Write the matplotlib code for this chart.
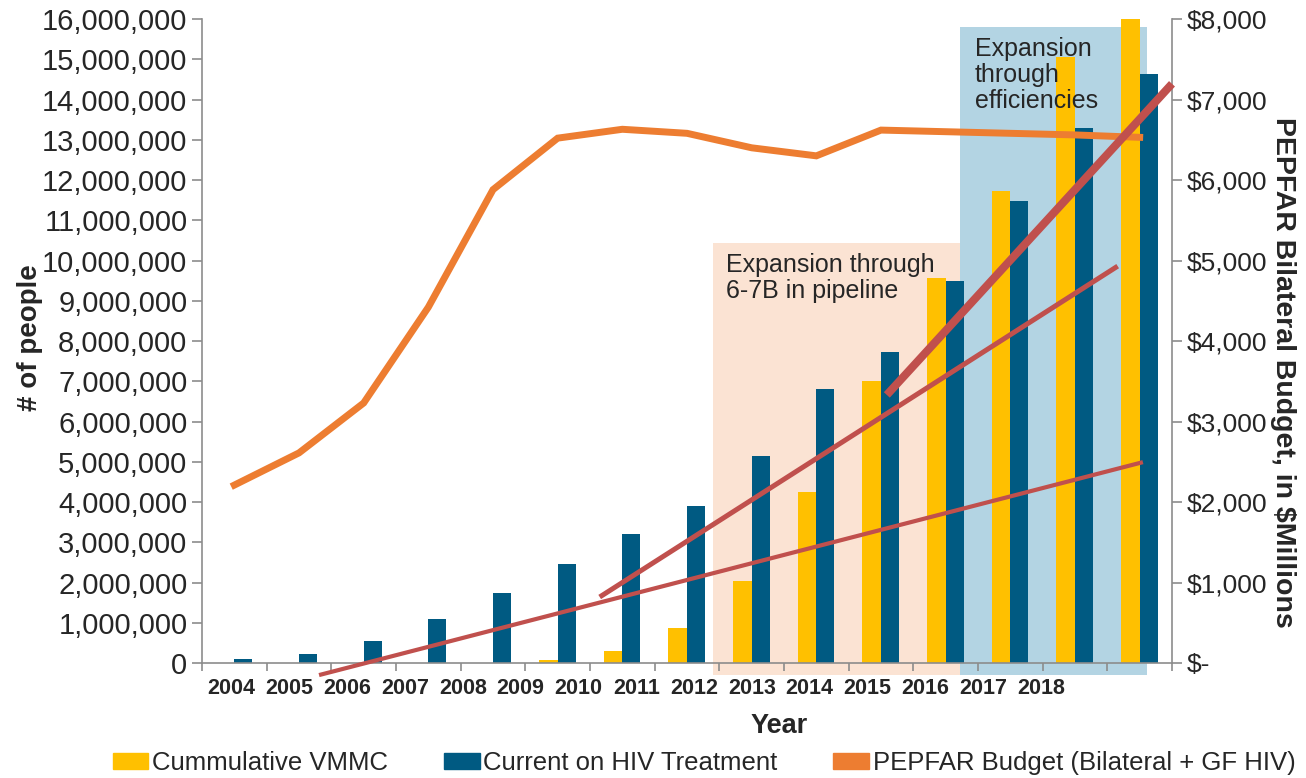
import numpy as np
import matplotlib
matplotlib.use("Agg")
import matplotlib.pyplot as plt
from matplotlib.patches import Rectangle, Patch
from matplotlib.ticker import FuncFormatter, MultipleLocator

# data
years = ["2004", "2005", "2006", "2007", "2008", "2009", "2010", "2011",
         "2012", "2013", "2014", "2015", "2016", "2017", "2018"]
vmmc = [0, 0, 0, 0, 0, 0.08e6, 0.30e6, 0.87e6, 2.03e6, 4.25e6, 7.0e6,
        9.57e6, 11.73e6, 15.06e6, 16.0e6]
on_treatment = [0.10e6, 0.23e6, 0.55e6, 1.10e6, 1.75e6, 2.47e6, 3.20e6, 3.90e6,
                5.15e6, 6.80e6, 7.73e6, 9.50e6, 11.48e6, 13.30e6, 14.63e6]
budget = [2210, 2610, 3230, 4420, 5880, 6520, 6630, 6580, 6400, 6300,
          6620, 6600, 6580, 6560, 6530]

# hand drawn trend arrows (x in category units, y in people)
trend_x = [[1.31, 14.05], [5.65, 13.66], [10.09, 14.50]]
trend_y = [[-0.30e6, 4.99e6], [1.64e6, 9.86e6], [6.66e6, 14.39e6]]
trend_lw = [3.0, 3.6, 5.8]

plt.rcParams['font.family'] = ['Liberation Sans', 'DejaVu Sans']

YELLOW = "#FFC000"
TEAL = "#005A82"
ORANGE = "#ED7D31"
RED = "#C0504D"
GREY = "#8C8C8C"
TXT = "#262626"

fig = plt.figure(figsize=(13.06, 7.78), dpi=100)
ax = fig.add_axes([202 / 1306, 1 - 663 / 778, 970 / 1306, 644 / 778])
ax2 = ax.twinx()

x = np.arange(len(years))

# background shading for the two expansion phases
ax.add_patch(Rectangle((7.40, -0.30e6), 3.82, 10.73e6, color="#FBE3D3",
                       zorder=0, clip_on=False, lw=0))
ax.add_patch(Rectangle((11.22, -0.30e6), 2.89, 16.10e6, color="#B3D4E3",
                       zorder=0, clip_on=False, lw=0))

ax.bar(x, vmmc, width=-0.29, align='edge', color=YELLOW, zorder=2)
ax.bar(x, on_treatment, width=0.28, align='edge', color=TEAL, zorder=2)

ax2.plot(x, budget, color=ORANGE, lw=5, solid_joinstyle='miter', zorder=3)

for tx, ty, lw in zip(trend_x, trend_y, trend_lw):
    ax2.plot(tx, ty, color=RED, lw=lw, transform=ax.transData,
             clip_on=False, zorder=4, solid_capstyle='butt')

ax.text(7.61, 10.19e6, "Expansion through\n6-7B in pipeline", fontsize=18,
        color=TXT, va='top', ha='left', zorder=5, linespacing=1.1)
ax.text(11.45, 15.55e6, "Expansion\nthrough\nefficiencies", fontsize=18,
        color=TXT, va='top', ha='left', zorder=5, linespacing=1.1)

# axes
ax.set_xlim(-0.5, 14.5)
ax.set_ylim(0, 16e6)
ax2.set_ylim(0, 8000)

ax.yaxis.set_major_locator(MultipleLocator(1e6))
ax.yaxis.set_major_formatter(FuncFormatter(lambda v, p: "{:,.0f}".format(v)))
ax2.yaxis.set_major_locator(MultipleLocator(1000))
ax2.yaxis.set_major_formatter(FuncFormatter(
    lambda v, p: "$-" if v == 0 else "${:,.0f}".format(v)))

label_pos = np.linspace(-0.04, 12.47, len(years))
ax.set_xticks(label_pos)
ax.set_xticklabels(years, fontsize=15.5, fontweight='bold', color=TXT)
ax.set_xticks(np.arange(-0.5, 15, 1), minor=True)
ax.tick_params(axis='x', which='major', length=0, pad=11)
ax.tick_params(axis='x', which='minor', length=6, color=GREY, width=1.2)

ax.tick_params(axis='y', labelsize=21, colors=TXT, length=7, color=GREY, width=1.2)
ax2.tick_params(axis='y', labelsize=19, colors=TXT, length=7, color=GREY, width=1.2)

for a in (ax, ax2):
    a.spines['top'].set_visible(False)
    for s in a.spines.values():
        s.set_color(GREY)
        s.set_linewidth(1.2)
ax.spines['right'].set_visible(False)
ax2.spines['left'].set_visible(False)
ax2.spines['bottom'].set_visible(False)

ax.set_xlabel("Year", fontsize=19.5, fontweight='bold', color=TXT)
ax.xaxis.set_label_coords(0.595, -0.077)

fig.text(30 / 1306, 1 - 338 / 778, "# of people", rotation=90, fontsize=20,
         fontweight='bold', color=TXT, ha='center', va='center')
fig.text(1283 / 1306, 1 - 372 / 778, "PEPFAR Bilateral Budget, in $Millions",
         rotation=-90, fontsize=20.5, fontweight='bold', color=TXT,
         ha='center', va='center')

handles = [Patch(color=YELLOW), Patch(color=TEAL), Patch(color=ORANGE)]
labels = ["Cummulative VMMC", "Current on HIV Treatment",
          "PEPFAR Budget (Bilateral + GF HIV)"]
fig.legend(handles, labels, loc='center', bbox_to_anchor=(704 / 1306, 1 - 763 / 778),
           ncol=3, frameon=False, fontsize=18.5,
           handlelength=1.4, handleheight=0.62, handletextpad=0.15,
           columnspacing=2.15, labelcolor=TXT, borderaxespad=0, borderpad=0)

fig.savefig("out.png", dpi=100)
